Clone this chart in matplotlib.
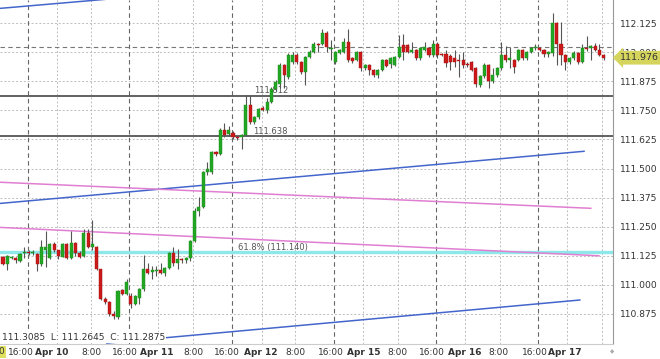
import matplotlib
matplotlib.use("Agg")
import matplotlib.pyplot as plt
import matplotlib.transforms as mtransforms
import numpy as np

# hourly OHLC, one entry per bar (bar index = position on the chart)
opens = [111.121, 111.090, 111.115, 111.117, 111.103, 111.138, 111.140, 111.138, 111.132, 111.089,
         111.150, 111.117, 111.175, 111.149, 111.121, 111.175, 111.117, 111.182, 111.139, 111.125,
         111.221, 111.163, 111.161, 111.067, 110.938, 110.928, 110.874, 110.863, 110.977, 110.962,
         110.953, 110.918, 110.945, 110.981, 111.067, 111.057, 111.058, 111.064, 111.049, 111.072,
         111.135, 111.092, 111.111, 111.106, 111.117, 111.189, 111.319, 111.333, 111.483, 111.484,
         111.570, 111.563, 111.664, 111.650, 111.652, 111.635, 111.635, 111.646, 111.774, 111.699,
         111.721, 111.761, 111.750, 111.786, 111.843, 111.865, 111.944, 111.893, 111.958, 111.987,
         111.958, 111.915, 111.980, 112.001, 112.037, 112.037, 112.083, 112.015, 111.958, 111.996,
         112.001, 112.044, 111.973, 111.965, 112.001, 111.930, 111.944, 111.922, 111.901, 111.922,
         111.965, 111.948, 111.944, 111.980, 112.030, 112.030, 112.001, 112.009, 111.973, 112.009,
         112.016, 111.987, 112.037, 111.994, 111.994, 111.983, 111.975, 111.965, 111.965, 111.951,
         111.958, 111.930, 111.858, 111.896, 111.944, 111.876, 111.901, 111.930, 111.987, 111.968,
         111.965, 111.965, 112.009, 111.973, 112.001, 112.019, 112.016, 112.009, 111.994, 111.997,
         112.126, 112.037, 111.987, 111.958, 111.973, 111.997, 111.958, 112.016, 112.016, 112.026,
         112.009, 111.987]
highs = [111.125, 111.128, 111.122, 111.120, 111.135, 111.161, 111.150, 111.148, 111.135, 111.193,
         111.233, 111.180, 111.185, 111.152, 111.178, 111.178, 111.230, 111.186, 111.145, 111.241,
         111.240, 111.279, 111.165, 111.070, 110.950, 110.932, 110.888, 110.980, 110.982, 111.026,
         110.965, 110.958, 110.986, 111.129, 111.095, 111.082, 111.082, 111.096, 111.078, 111.140,
         111.163, 111.154, 111.115, 111.120, 111.192, 111.330, 111.376, 111.491, 111.527, 111.577,
         111.575, 111.672, 111.695, 111.681, 111.660, 111.640, 111.650, 111.815, 111.815, 111.725,
         111.762, 111.768, 111.802, 111.850, 111.882, 111.952, 111.950, 111.995, 112.001, 111.995,
         111.962, 111.985, 112.010, 112.045, 112.040, 112.098, 112.090, 112.052, 112.005, 112.015,
         112.060, 112.098, 111.980, 112.005, 112.005, 111.950, 111.948, 111.926, 111.926, 111.970,
         111.970, 111.978, 111.985, 112.074, 112.080, 112.035, 112.044, 112.015, 112.020, 112.043,
         112.020, 112.052, 112.042, 111.998, 112.008, 111.990, 112.009, 111.993, 112.001, 111.958,
         111.962, 111.935, 111.900, 111.952, 111.948, 111.930, 111.935, 112.044, 112.026, 112.023,
         111.970, 112.015, 112.013, 112.005, 112.022, 112.035, 112.020, 112.013, 112.005, 112.167,
         112.130, 112.130, 111.992, 111.978, 112.004, 112.001, 112.034, 112.069, 112.030, 112.039,
         112.035, 111.990]
lows = [111.085, 111.064, 111.110, 111.092, 111.100, 111.117, 111.130, 111.128, 111.060, 111.082,
        111.075, 111.110, 111.140, 111.112, 111.118, 111.110, 111.112, 111.125, 111.115, 111.120,
        111.158, 111.150, 111.062, 110.935, 110.918, 110.866, 110.853, 110.852, 110.955, 110.955,
        110.900, 110.912, 110.918, 110.975, 111.045, 111.026, 111.039, 111.045, 111.040, 111.068,
        111.082, 111.069, 111.095, 111.095, 111.103, 111.185, 111.297, 111.330, 111.470, 111.478,
        111.555, 111.558, 111.635, 111.640, 111.628, 111.621, 111.585, 111.640, 111.690, 111.690,
        111.712, 111.745, 111.737, 111.780, 111.835, 111.848, 111.848, 111.885, 111.950, 111.950,
        111.905, 111.858, 111.975, 111.995, 112.001, 112.030, 112.000, 111.966, 111.950, 111.990,
        111.995, 111.957, 111.955, 111.960, 111.918, 111.925, 111.901, 111.895, 111.888, 111.918,
        111.935, 111.930, 111.940, 111.975, 111.968, 111.995, 111.995, 111.965, 111.968, 112.005,
        111.980, 111.980, 111.974, 111.982, 111.935, 111.922, 111.937, 111.893, 111.930, 111.938,
        111.918, 111.850, 111.850, 111.890, 111.848, 111.866, 111.895, 111.925, 111.958, 111.930,
        111.909, 111.960, 111.968, 111.968, 111.996, 112.010, 112.005, 111.978, 111.980, 111.985,
        111.944, 111.944, 111.922, 111.950, 111.968, 111.951, 111.955, 112.005, 111.965, 112.005,
        111.985, 111.965]
closes = [111.089, 111.125, 111.118, 111.106, 111.132, 111.140, 111.138, 111.140, 111.089, 111.161,
          111.161, 111.175, 111.149, 111.125, 111.175, 111.115, 111.182, 111.139, 111.121, 111.221,
          111.161, 111.175, 111.067, 110.938, 110.928, 110.874, 110.866, 110.974, 110.962, 111.014,
          110.918, 110.953, 110.981, 111.067, 111.050, 111.062, 111.064, 111.052, 111.072, 111.135,
          111.093, 111.111, 111.105, 111.117, 111.189, 111.319, 111.333, 111.484, 111.500, 111.570,
          111.563, 111.664, 111.642, 111.664, 111.635, 111.630, 111.646, 111.774, 111.699, 111.721,
          111.757, 111.750, 111.786, 111.843, 111.872, 111.944, 111.901, 111.987, 111.987, 111.958,
          111.915, 111.980, 112.001, 112.037, 112.030, 112.083, 112.021, 112.019, 112.001, 112.009,
          112.044, 111.968, 111.962, 112.001, 111.930, 111.944, 111.922, 111.901, 111.922, 111.965,
          111.940, 111.974, 111.980, 112.023, 111.999, 112.001, 112.009, 111.973, 112.016, 112.023,
          111.987, 112.037, 111.987, 111.987, 111.954, 111.958, 111.958, 111.961, 111.944, 111.944,
          111.925, 111.865, 111.896, 111.944, 111.876, 111.901, 111.930, 111.987, 111.965, 111.975,
          111.937, 112.009, 111.973, 112.001, 112.016, 112.022, 112.009, 111.994, 112.001, 112.126,
          112.037, 111.987, 111.958, 111.973, 111.997, 111.958, 112.016, 112.012, 112.026, 112.009,
          111.987, 111.976]

# price axis
yticks = [110.875, 111.000, 111.125, 111.250, 111.375, 111.500, 111.625, 111.750, 111.875, 112.000, 112.125]
last_price = 111.976

# time axis: grid positions (bar index) and labels
session_grid = [5.8, 29.6, 53.8, 77.7, 101.6, 125.6]          # 16:00 lines (dashed)
minor_grid = [12.7, 20.7, 36.4, 44.6, 60.8, 68.5, 84.5, 92.7, 108.5, 116.7, 132.4, 140.6]
time_pos = [4.2, 11.4, 20.7, 28.6, 36.0, 44.7, 52.5, 60.6, 68.7, 76.9, 84.6, 92.6,
            100.8, 108.5, 116.4, 124.8, 132.0]
time_text = ["16:00", "Apr 10", "8:00", "16:00", "Apr 11", "8:00", "16:00", "Apr 12", "8:00",
             "16:00", "Apr 15", "8:00", "16:00", "Apr 16", "8:00", "16:00", "Apr 17"]

# drawn levels and trend lines (bar, price) pairs
levels = [111.812, 111.638]
fib_level = 111.140
blue_lines = [[(-0.7, 112.188), (40.0, 112.252)],
              [(-0.7, 111.350), (136.4, 111.574)],
              [(24.4, 110.750), (135.4, 110.935)]]
pink_lines = [[(-0.7, 111.441), (138.0, 111.329)],
              [(-0.7, 111.247), (139.9, 111.125)]]

fig = plt.figure(figsize=(6.6, 3.59), dpi=100)
ax = fig.add_axes([0, 15 / 359, 613 / 660, 344 / 359])
ax.set_xlim(-0.7, 143.2)
ax.set_ylim(110.746, 112.224)

# grid
for y in yticks:
    ax.axhline(y, color="#bdbdbd", lw=0.7, ls=(0, (2, 2)), zorder=0)
for x in minor_grid:
    ax.axvline(x, color="#bdbdbd", lw=0.7, ls=(0, (2, 2)), zorder=0)
for x in session_grid:
    ax.axvline(x, color="#666666", lw=0.8, ls=(0, (4, 3)), zorder=0)
ax.axhline(112.023, color="#777777", lw=0.8, ls=(0, (4, 3)), zorder=0)

# levels
for lv in levels:
    ax.axhline(lv, color="#555555", lw=1.3, zorder=1)
ax.text(58.9, 111.836, "111.812", fontsize=6, color="#555555", va="center", zorder=1)
ax.text(58.7, 111.659, "111.638", fontsize=6, color="#555555", va="center", zorder=1)
ax.axhline(fib_level, color="#8ee8ea", lw=2.4, zorder=1)
ax.text(55.2, 111.161, "61.8% (111.140)", fontsize=6, color="#555555", va="center", zorder=1)

for seg in blue_lines:
    xs, ys = zip(*seg)
    ax.plot(xs, ys, color="#4466cc", lw=1.1, zorder=1.5)
for seg in pink_lines:
    xs, ys = zip(*seg)
    ax.plot(xs, ys, color="#e07fd2", lw=1.1, zorder=1.5)

# candles
o = np.array(opens)
c = np.array(closes)
idx = np.arange(len(o))
up = c >= o
ax.vlines(idx, lows, highs, color="#555555", lw=0.8, zorder=2)
body = np.maximum(np.abs(c - o), 0.004)
bottom = np.minimum(o, c)
ax.bar(idx[up], body[up], bottom=bottom[up], width=0.72, color="#22a722",
       edgecolor="#1a8a1a", lw=0.3, zorder=3)
ax.bar(idx[~up], body[~up], bottom=bottom[~up], width=0.72, color="#cc1a1a",
       edgecolor="#a51010", lw=0.3, zorder=3)

# axes styling
for s in ["left", "top"]:
    ax.spines[s].set_visible(False)
ax.spines["right"].set_color("#999999")
ax.spines["bottom"].set_color("#cccccc")
ax.yaxis.tick_right()
ax.set_yticks(yticks)
ax.set_yticklabels([f"{v:.3f}" for v in yticks])
ax.tick_params(axis="y", length=0, pad=5, labelsize=6.6, labelcolor="#333333")
ax.set_xticks([])

for x, t in zip(time_pos, time_text):
    bold = t.startswith("Apr")
    ax.text(x, -0.025, t, transform=mtransforms.blended_transform_factory(ax.transData, ax.transAxes),
            ha="center", va="center", fontsize=6.5, color="#333333",
            fontweight="bold" if bold else "normal", clip_on=False)

# OHLC readout
ax.text(0.003, 0.02, "111.3085  L: 111.2645  C: 111.2875", transform=ax.transAxes,
        fontsize=6.5, color="#333333", va="center", ha="left", zorder=4,
        bbox=dict(boxstyle="square,pad=0.1", fc="white", ec="none"))

# last price tag
trans = mtransforms.blended_transform_factory(ax.transAxes, ax.transData)
ax.text(1.012, last_price, f"{last_price:.3f}", transform=trans, fontsize=6.8,
        color="#333333", va="center", ha="left", clip_on=False, zorder=5,
        bbox=dict(boxstyle="larrow,pad=0.25", fc="#d5d55e", ec="none"))

fig.text(-0.002, 0.02, "0", fontsize=6.5, color="#333333", va="center",
         bbox=dict(boxstyle="square,pad=0.15", fc="#e0e060", ec="none"))
fig.text(0.924, 0.02, "\u25c6", fontsize=4, color="#aaaaaa", va="center")

fig.savefig("out.png", dpi=100)
